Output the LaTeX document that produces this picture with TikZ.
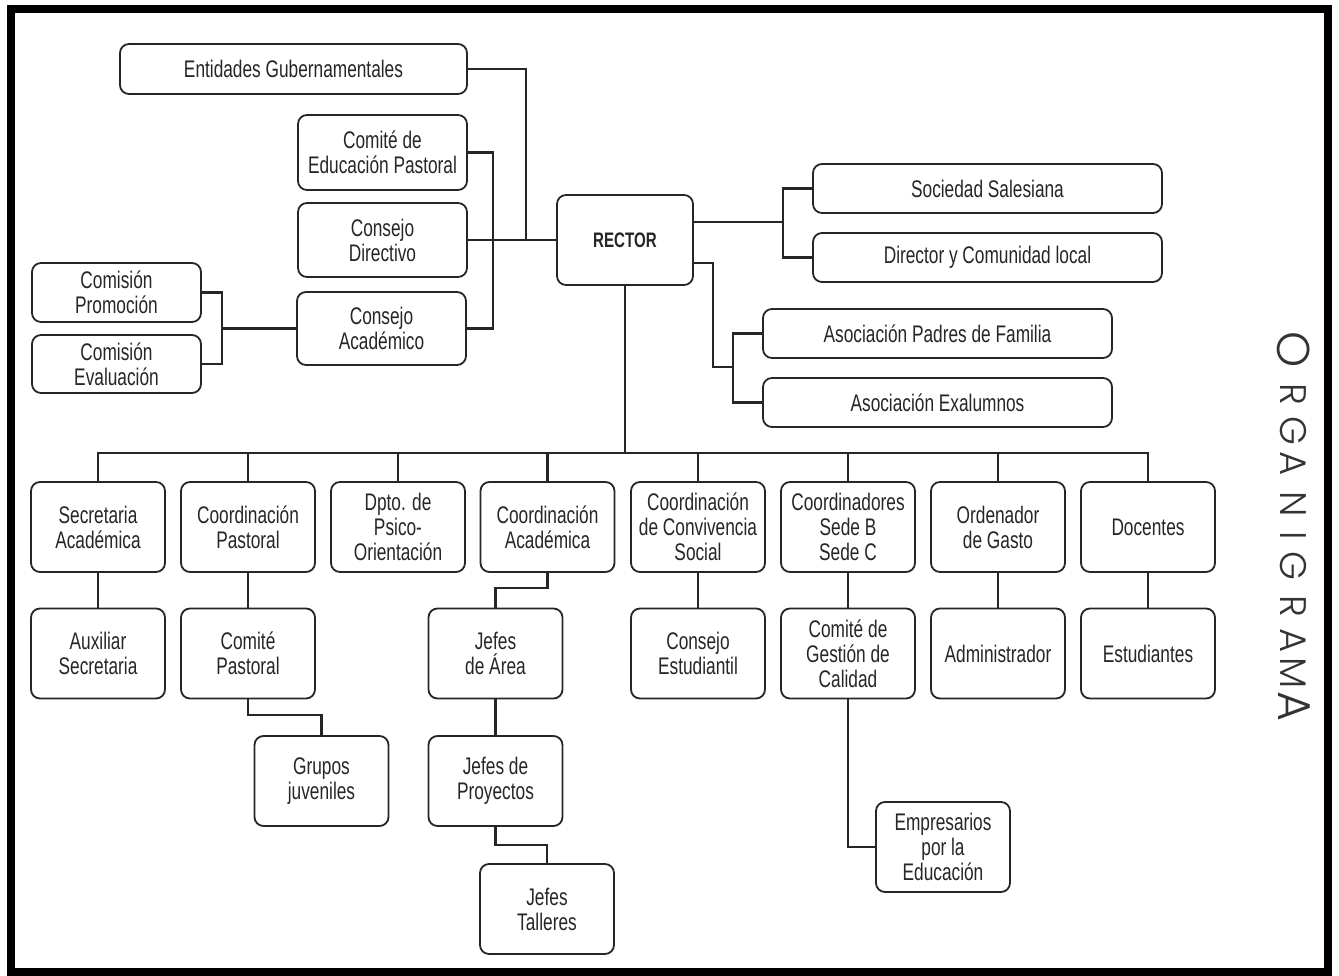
\documentclass[tikz,border=0pt]{standalone}
\usepackage{fontspec}
\setmainfont{Liberation Sans}[FakeStretch=0.72]
\IfFontExistsTF{Poppins Light}{\newfontfamily\orgfont{Poppins Light}}{\newfontfamily\orgfont{Poppins}}
\usetikzlibrary{calc}
\tikzset{
  box/.style={draw=black!85, line width=1.8pt, rounded corners=9pt, inner sep=0pt,
    align=center, text=black!85, font=\fontsize{24}{25}\selectfont},
  rowbox/.style={box, minimum width=134pt, minimum height=90pt},
  link/.style={draw=black!85, line width=2.6pt},
  letter/.style={inner sep=0pt, rotate=-90, text=black!80, font=\orgfont\fontsize{37}{37}\selectfont},
  bigletter/.style={letter, font=\orgfont\fontsize{46}{46}\selectfont},
}
\begin{document}
\begin{tikzpicture}[x=1pt, y=-1pt]
\useasboundingbox (0,0) rectangle (1339,976);
\fill[white] (0,0) rectangle (1339,976);
\draw[line width=8pt] (11,9) rectangle (1328,972);

% upper left
\node[box, minimum width=347pt, minimum height=50pt] (ent) at (293.5,69) {Entidades Gubernamentales};
\node[box, minimum width=169pt, minimum height=75pt] (cep) at (382.5,152.5) {Comité de\\Educación Pastoral};
\node[box, minimum width=169pt, minimum height=74pt] (cdir) at (382.5,240) {Consejo\\Directivo};
\node[box, minimum width=169pt, minimum height=73pt] (caca) at (381.5,328.5) {Consejo\\Académico};
\node[box, minimum width=169pt, minimum height=59pt] (cprom) at (116.5,292.5) {Comisión\\Promoción};
\node[box, minimum width=169pt, minimum height=58pt] (ceval) at (116.5,364) {Comisión\\Evaluación};

% rector
\node[box, minimum width=136pt, minimum height=90pt, font=\fontsize{21}{22}\selectfont\bfseries] (rector) at (625,240) {RECTOR};

% upper right
\node[box, minimum width=349pt, minimum height=49pt] (soc) at (987.5,188.5) {Sociedad Salesiana};
\node[box, minimum width=349pt, minimum height=49pt] (dir) at (987.5,257.5) {Director y Comunidad local};
\node[box, minimum width=349pt, minimum height=49pt] (padres) at (937.5,333.5) {Asociación Padres de Familia};
\node[box, minimum width=349pt, minimum height=49pt] (exal) at (937.5,402.5) {Asociación Exalumnos};

% row 1
\node[rowbox] (sec) at (98,527) {Secretaria\\Académica};
\node[rowbox] (cpas) at (248,527) {Coordinación\\Pastoral};
\node[rowbox] (dpto) at (398,527) {Dpto. de\\Psico-\\Orientación};
\node[rowbox] (cacad) at (547.5,527) {Coordinación\\Académica};
\node[rowbox] (conv) at (698,527) {Coordinación\\de Convivencia\\Social};
\node[rowbox] (csede) at (848,527) {Coordinadores\\Sede B\\Sede C};
\node[rowbox] (orden) at (998,527) {Ordenador\\de Gasto};
\node[rowbox] (doc) at (1148,527) {Docentes};

% row 2
\node[rowbox] (aux) at (98,653.5) {Auxiliar\\Secretaria};
\node[rowbox] (cpast) at (248,653.5) {Comité\\Pastoral};
\node[rowbox] (jarea) at (495.5,653.5) {Jefes\\de Área};
\node[rowbox] (cest) at (698,653.5) {Consejo\\Estudiantil};
\node[rowbox] (cgest) at (848,653.5) {Comité de\\Gestión de\\Calidad};
\node[rowbox] (admin) at (998,653.5) {Administrador};
\node[rowbox] (estud) at (1148,653.5) {Estudiantes};

% lower
\node[rowbox] (grupos) at (321.5,781) {Grupos\\juveniles};
\node[rowbox] (jproy) at (495.5,781) {Jefes de\\Proyectos};
\node[rowbox] (jtall) at (547,909) {Jefes\\Talleres};
\node[rowbox] (emp) at (943,847) {Empresarios\\por la\\Educación};

% junction coordinates
\coordinate (jL) at (526,240);
\coordinate (jC) at (493,240);
\coordinate (jK) at (222,328.5);
\coordinate (jR1) at (783,222);
\coordinate (jR2) at (713,263);
\coordinate (jR3) at (733,367);
\coordinate (bus) at (625,453);
\coordinate (jA) at (521,588);
\coordinate (jT) at (521,845);
\coordinate (jG) at (285,715);

% connectors left
\draw[link] (ent.east) -| (jL) -- (rector.west);
\draw[link] (cdir.east) -- (rector.west);
\draw[link] (cep.east) -| (jC) |- (caca.east);
\draw[link] (cprom.east) -| (jK) |- (ceval.east);
\draw[link] (jK) -- (caca.west);

% connectors right
\draw[link] (rector.east |- jR1) -- (jR1);
\draw[link] (soc.west) -| (jR1) |- (dir.west);
\draw[link] (rector.east |- jR2) -- (jR2) |- (jR3);
\draw[link] (padres.west) -| (jR3) |- (exal.west);

% bus
\draw[link] (rector.south) -- (bus);
\foreach \n in {sec,cpas,dpto,cacad,conv,csede,orden,doc}
  \draw[link] (bus) -| (\n.north);

% row1 to row2
\foreach \a/\b in {sec/aux,cpas/cpast,conv/cest,csede/cgest,orden/admin,doc/estud}
  \draw[link] (\a.south) -- (\b.north);
\draw[link] (cacad.south) |- (jA) -| (jarea.north);
\draw[link] (jarea.south) -- (jproy.north);
\draw[link] (jproy.south) |- (jT) -| (jtall.north);
\draw[link] (cpast.south) |- (jG) -| (grupos.north);
\draw[link] (cgest.south) |- (emp.west);

% vertical title
\node[bigletter] (l1) at (1294,350) {O};
\node[letter] (l2) at (1293,394.5) {R};
\node[letter] (l3) at (1293,430.5) {G};
\node[letter] (l4) at (1293,464) {A};
\node[letter] (l5) at (1293,504) {N};
\node[letter] (l6) at (1293,536) {I};
\node[letter] (l7) at (1293,566) {G};
\node[letter] (l8) at (1293,606.5) {R};
\node[letter] (l9) at (1293,640.5) {A};
\node[letter] (l10) at (1293,673.5) {M};
\node[bigletter] (l11) at (1294,706) {A};
\end{tikzpicture}
\end{document}
